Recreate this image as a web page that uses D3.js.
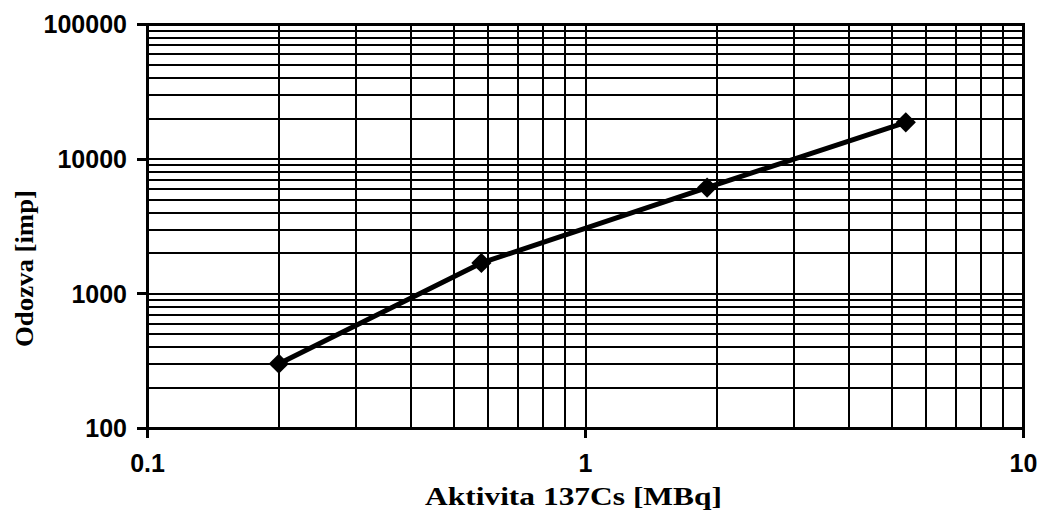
<!DOCTYPE html>
<html>
<head>
<meta charset="utf-8">
<script src="https://cdn.jsdelivr.net/npm/d3@7"></script>
<style>
  html, body { margin: 0; padding: 0; background: #fff; }
  svg { display: block; }
</style>
</head>
<body>
<div id="chart"></div>
<script>
const activity = [0.2, 0.58, 1.9, 5.4];        // MBq
const response = [300, 1680, 6100, 18600];     // imp

const xTicks = [0.1, 1, 10];
const yTicks = [100, 1000, 10000, 100000];
const xTitle = 'Aktivita 137Cs [MBq]';
const yTitle = 'Odozva [imp]';

const width = 1044;
const height = 514;
const margin = { top: 24, right: 21, bottom: 86, left: 147 };
const w = width - margin.left - margin.right;
const h = height - margin.top - margin.bottom;

const svg = d3.select('#chart')
  .append('svg')
  .attr('width', width)
  .attr('height', height);

const g = svg.append('g')
  .attr('transform', `translate(${margin.left},${margin.top})`);

const x = d3.scaleLog().domain([0.1, 10]).range([0, w]);
const y = d3.scaleLog().domain([100, 100000]).range([h, 0]);

// every 1..9 step in each decade, for the grid
const minor = (lo, hi) => {
  const out = [];
  for (let d = lo; d < hi; d *= 10) {
    for (let k = 1; k <= 9; k++) out.push(d * k);
  }
  return out;
};

g.append('g')
  .attr('class', 'grid-x')
  .attr('transform', `translate(0,${h})`)
  .call(d3.axisBottom(x).tickValues(minor(0.1, 10)).tickSize(-h).tickFormat(''))
  .call(s => s.select('.domain').remove())
  .selectAll('line')
  .attr('stroke', '#000')
  .attr('stroke-width', 2)
  .attr('shape-rendering', 'crispEdges');

g.append('g')
  .attr('class', 'grid-y')
  .call(d3.axisLeft(y).tickValues(minor(100, 100000)).tickSize(-w).tickFormat(''))
  .call(s => s.select('.domain').remove())
  .selectAll('line')
  .attr('stroke', '#000')
  .attr('stroke-width', 2)
  .attr('shape-rendering', 'crispEdges');

// frame
g.append('rect')
  .attr('width', w)
  .attr('height', h)
  .attr('fill', 'none')
  .attr('stroke', '#000')
  .attr('stroke-width', 3)
  .attr('shape-rendering', 'crispEdges');

// axes with the major labels
const yAxis = g.append('g')
  .call(d3.axisLeft(y).tickValues(yTicks).tickSize(10).tickPadding(10)
    .tickFormat(d3.format('d')));
yAxis.select('.domain').remove();
yAxis.selectAll('line').attr('stroke', '#000').attr('stroke-width', 3)
  .attr('shape-rendering', 'crispEdges');
yAxis.selectAll('text')
  .attr('fill', '#000')
  .style('font-family', 'Liberation Sans, Arial, sans-serif')
  .style('font-weight', 'bold')
  .style('font-size', '25px')
  .attr('dy', '0.35em');

const xAxis = g.append('g')
  .attr('transform', `translate(0,${h})`)
  .call(d3.axisBottom(x).tickValues(xTicks).tickSize(10).tickPadding(16)
    .tickFormat(d => String(d)));
xAxis.select('.domain').remove();
xAxis.selectAll('line').attr('stroke', '#000').attr('stroke-width', 3)
  .attr('shape-rendering', 'crispEdges');
xAxis.selectAll('text')
  .attr('fill', '#000')
  .style('font-family', 'Liberation Sans, Arial, sans-serif')
  .style('font-weight', 'bold')
  .style('font-size', '25px');

// titles
svg.append('text')
  .attr('x', 425)
  .attr('y', 505)
  .attr('textLength', 297)
  .attr('lengthAdjust', 'spacingAndGlyphs')
  .style('font-family', 'Liberation Serif, Times New Roman, serif')
  .style('font-weight', 'bold')
  .style('font-size', '26px')
  .text(xTitle);

svg.append('text')
  .attr('transform', 'translate(33,347) rotate(-90)')
  .attr('textLength', 157)
  .attr('lengthAdjust', 'spacingAndGlyphs')
  .style('font-family', 'Liberation Serif, Times New Roman, serif')
  .style('font-weight', 'bold')
  .style('font-size', '26px')
  .text(yTitle);

// series
const pts = activity.map((a, i) => [a, response[i]]);

g.append('path')
  .datum(pts)
  .attr('fill', 'none')
  .attr('stroke', '#000')
  .attr('stroke-width', 5)
  .attr('stroke-linejoin', 'round')
  .attr('d', d3.line().x(d => x(d[0])).y(d => y(d[1])));

g.selectAll('.pt')
  .data(pts)
  .join('path')
  .attr('class', 'pt')
  .attr('transform', d => `translate(${x(d[0])},${y(d[1])})`)
  .attr('d', d3.symbol().type(d3.symbolDiamond2).size(260))
  .attr('fill', '#000');
</script>
</body>
</html>
